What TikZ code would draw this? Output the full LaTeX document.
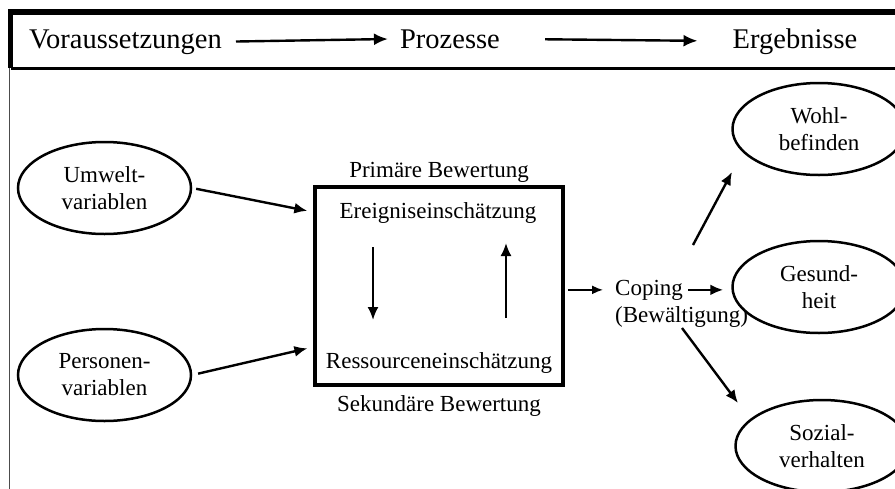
\documentclass[tikz,border=0pt]{standalone}
\usepackage{fontspec}
\setmainfont{Liberation Serif}
\usetikzlibrary{arrows.meta,positioning,shapes.geometric}

\tikzset{
  hdr/.style={font=\fontsize{28.5}{33}\selectfont, inner sep=0pt},
  txt/.style={font=\fontsize{23}{27}\selectfont, inner sep=2pt},
  oval/.style={ellipse, draw, line width=2.5pt, minimum width=173pt, minimum height=92pt,
    inner sep=0pt, align=center, font=\fontsize{23}{27}\selectfont},
  harr/.style={line width=2.4pt, -{Latex[length=14pt,width=12pt]}},
  arr/.style={line width=2.4pt, -{Latex[length=13pt,width=11pt]}},
}

\begin{document}
\begin{tikzpicture}[x=1pt,y=-1pt]
\clip (0,0) rectangle (895,488);

% Header frame
\draw[line width=3pt] (10.5,68) -- (905,68);
\draw[line width=5.5pt, line join=miter] (10.5,68) -- (10.5,12) -- (905,12);
\draw[gray!60!black, line width=1.2pt] (9.5,68) -- (9.5,495);

% Header labels
\node[hdr, anchor=base] (vor) at (125.5,48) {Voraussetzungen};
\node[hdr, anchor=base] (pro) at (450,48) {Prozesse};
\node[hdr, anchor=base] (erg) at (795,48) {Ergebnisse};
\draw[harr, shorten <=14pt, shorten >=12pt] (vor.east) -- (pro.west);
\draw[harr, shorten <=45pt, shorten >=35pt] (pro.east) -- (erg.west);

% Preconditions
\node[oval] (umw) at (104.5,188) {Umwelt-\\variablen};
\node[oval] (per) at (104.5,375) {Personen-\\variablen};

% Appraisal box
\node[draw, line width=3.5pt, minimum width=248pt, minimum height=198pt, inner sep=0pt] (box) at (439,286) {};
\node[txt, above=1pt of box] (prim) {Primäre Bewertung};
\node[txt, below=7pt of box] (sek) {Sekundäre Bewertung};
\node[txt, anchor=base] (ereig) at (438,218) {Ereigniseinschätzung};
\node[txt, anchor=base] (ress) at (439,368) {Ressourceneinschätzung};

\draw[arr, shorten <=4pt, shorten >=6pt] (umw.east) -- (box.west |- 0,212);
\draw[arr, shorten <=6pt, shorten >=6pt] (per.east) -- (box.west |- 0,347);

% Inner loop
\coordinate (dtop) at (373,247);
\coordinate (dbot) at (373,320);
\coordinate (ubot) at (506,318);
\coordinate (utop) at (506,243);
\draw[arr, line width=2pt] (dtop) -- (dbot);
\draw[arr, line width=2pt] (ubot) -- (utop);

% Coping
\node[txt, anchor=base west] (cop) at (613,295) {Coping};
\node[txt, anchor=base west] (bewl) at (613,322) {(Bewältigung)};
\draw[line width=1.6pt, -{Latex[length=11pt,width=9pt]}, shorten <=3pt, shorten >=10pt] (box.east |- cop.west) -- (cop.west);

% Outcomes
\node[oval] (wohl) at (819,129) {Wohl-\\befinden};
\node[oval] (ges) at (819,287) {Gesund-\\heit};
\node[oval] (soz) at (822,446) {Sozial-\\verhalten};

\draw[arr, shorten <=3pt, shorten >=8pt] (cop.east) -- (cop.east -| ges.west);
\coordinate (w0) at (693,245);
\coordinate (w1) at (732,172);
\draw[arr] (w0) -- (w1);
\coordinate (s0) at (682,328);
\coordinate (s1) at (738,403);
\draw[arr] (s0) -- (s1);
\end{tikzpicture}
\end{document}
